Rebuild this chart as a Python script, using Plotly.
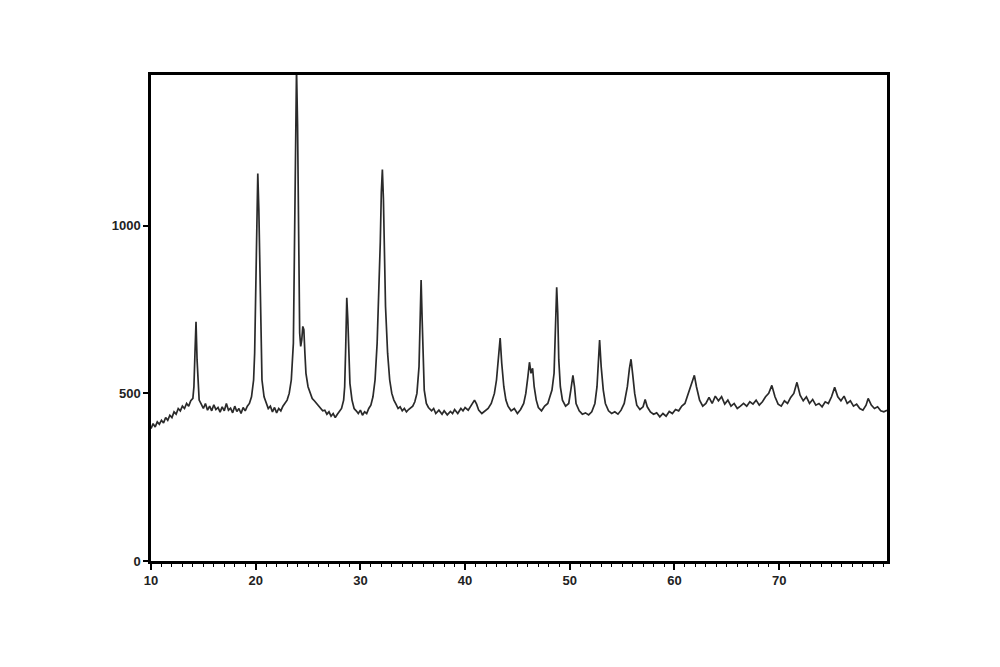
import plotly.graph_objects as go

two_theta = [
    10.0, 10.2, 10.4, 10.6, 10.8, 11.0, 11.2, 11.4, 11.6, 11.8, 12.0, 12.2, 12.4, 12.6, 12.8,
    13.0, 13.2, 13.4, 13.6, 13.8, 14.0, 14.1, 14.2, 14.3, 14.4, 14.5, 14.6, 14.8,
    15.0, 15.2, 15.4, 15.6, 15.8, 16.0, 16.2, 16.4, 16.6, 16.8, 17.0, 17.2, 17.4, 17.6, 17.8,
    18.0, 18.2, 18.4, 18.6, 18.8, 19.0, 19.2, 19.4, 19.6, 19.8, 19.9, 20.0, 20.1, 20.2, 20.3,
    20.4, 20.5, 20.6, 20.8, 21.0, 21.2, 21.4, 21.6, 21.8, 22.0, 22.2, 22.4, 22.6, 22.8,
    23.0, 23.2, 23.4, 23.6, 23.7, 23.8, 23.9, 24.0, 24.1, 24.2, 24.3, 24.4, 24.5, 24.6, 24.7, 24.8,
    25.0, 25.2, 25.4, 25.6, 25.8, 26.0, 26.2, 26.4, 26.6, 26.8, 27.0, 27.2, 27.4, 27.6, 27.8,
    28.0, 28.2, 28.4, 28.5, 28.6, 28.7, 28.8, 28.9, 29.0, 29.2, 29.4, 29.6, 29.8,
    30.0, 30.2, 30.4, 30.6, 30.8, 31.0, 31.2, 31.4, 31.6, 31.8, 31.9, 32.0, 32.1, 32.2, 32.3,
    32.4, 32.6, 32.8, 33.0, 33.2, 33.4, 33.6, 33.8, 34.0, 34.2, 34.4, 34.6, 34.8,
    35.0, 35.2, 35.4, 35.6, 35.7, 35.8, 35.9, 36.0, 36.1, 36.3, 36.5, 36.8, 37.0, 37.2, 37.5, 37.8,
    38.0, 38.3, 38.6, 38.8, 39.0, 39.3, 39.6, 39.8, 40.0, 40.3, 40.6, 40.9, 41.1, 41.3, 41.6, 41.9,
    42.2, 42.5, 42.8, 43.0, 43.2, 43.35, 43.5, 43.7, 43.9, 44.1, 44.4, 44.7, 45.0, 45.3, 45.6, 45.8,
    46.0, 46.15, 46.3, 46.45, 46.6, 46.8, 47.0, 47.3, 47.6, 47.9, 48.1, 48.3, 48.5, 48.65, 48.75,
    48.85, 48.95, 49.1, 49.3, 49.6, 49.9, 50.1, 50.3, 50.45, 50.6, 50.9, 51.2, 51.5, 51.8,
    52.1, 52.4, 52.6, 52.75, 52.85, 53.0, 53.2, 53.4, 53.7, 54.0, 54.3, 54.6, 54.9,
    55.2, 55.5, 55.7, 55.85, 56.0, 56.2, 56.4, 56.7, 57.0, 57.2, 57.4, 57.7, 58.0, 58.3, 58.6, 58.9,
    59.2, 59.5, 59.8, 60.1, 60.4, 60.7, 61.0, 61.3, 61.6, 61.9, 62.1, 62.4, 62.7, 63.0, 63.3, 63.6,
    63.9, 64.2, 64.5, 64.8, 65.1, 65.4, 65.7, 66.0, 66.3, 66.6, 66.9, 67.2, 67.5, 67.8, 68.1, 68.4,
    68.7, 69.0, 69.3, 69.6, 69.9, 70.2, 70.5, 70.8, 71.1, 71.4, 71.7, 72.0, 72.3, 72.6, 72.9,
    73.2, 73.5, 73.8, 74.1, 74.4, 74.7, 75.0, 75.3, 75.6, 75.9, 76.2, 76.5, 76.8, 77.1, 77.4, 77.7,
    78.0, 78.3, 78.5, 78.8, 79.1, 79.4, 79.7, 80.0, 80.3,
]

intensity = [
    395, 410, 400, 415, 408, 420, 412, 428, 420, 435, 428, 445, 438, 455, 448,
    462, 455, 470, 462, 478, 485, 520, 620, 714, 600, 520, 480, 468,
    455, 470, 450, 462, 448, 466, 452, 458, 444, 460, 448, 470, 450, 456, 442,
    462, 446, 455, 440, 458, 448, 462, 470, 490, 540, 620, 800, 1000, 1156, 1050,
    860, 650, 540, 490, 470, 455, 462, 445, 458, 442, 455, 448, 462, 470,
    480, 500, 540, 650, 900, 1250, 1470, 1300, 900, 680, 640, 660, 700, 690, 620, 560,
    520, 500, 485, 478, 470, 462, 455, 448, 450, 438, 445, 432, 440, 428, 438,
    445, 455, 480, 520, 640, 785, 720, 600, 530, 480, 455, 448, 440,
    450, 435, 445, 440, 455, 465, 490, 540, 650, 820, 950, 1100, 1168, 1080, 900,
    760, 620, 540, 500, 480, 468, 455, 460, 448, 455, 445, 452, 458,
    462, 475, 500, 580, 700, 838, 720, 580, 510, 470, 458, 448, 455, 440, 450, 438,
    448, 436, 446, 440, 452, 440, 455, 448, 458, 450, 465, 480, 468, 450, 440, 448,
    455, 470, 500, 540, 600, 665, 590, 520, 480, 462, 448, 455, 440, 452, 470, 500,
    550, 593, 560, 575, 520, 480, 458, 448, 462, 470, 490, 510, 560, 700, 817,
    740, 600, 520, 480, 462, 470, 510, 554, 520, 470, 448, 438, 442, 436,
    445, 470, 520, 600, 659, 580, 510, 470, 448, 440, 445, 438, 450,
    470, 520, 575, 602, 560, 500, 465, 452, 460, 482, 460, 445, 438, 442, 430, 440,
    432, 446, 440, 452, 448, 462, 470, 500, 530, 554, 520, 480, 462, 470, 488, 470,
    492, 478, 490, 468, 480, 462, 470, 455, 462, 470, 462, 475, 468, 480, 465, 475,
    490, 500, 524, 490, 468, 462, 478, 470, 488, 500, 533, 495, 478, 490, 470,
    482, 465, 470, 460, 475, 470, 490, 518, 490, 478, 492, 470, 478, 462, 468, 455,
    450, 465, 485, 465, 455, 460, 448, 445, 450,
]

x_tick_vals = [10, 20, 30, 40, 50, 60, 70]
y_tick_vals = [0, 500, 1000]

fig = go.Figure()
fig.add_trace(go.Scatter(
    x=two_theta, y=intensity, mode="lines",
    line=dict(color="#2a2a2a", width=1.7),
    showlegend=False, hoverinfo="skip",
))

axis_font = dict(family="Liberation Sans", size=13, color="#222222", weight="bold")

fig.update_layout(
    width=1000, height=667,
    paper_bgcolor="white", plot_bgcolor="white",
    margin=dict(l=143, r=121, t=67, b=114),
    xaxis=dict(
        range=[10, 80.3], tickvals=x_tick_vals, ticktext=[str(v) for v in x_tick_vals],
        ticks="outside", ticklen=6, tickwidth=1.5, tickcolor="black",
        minor=dict(dtick=1, ticks="outside", ticklen=3, tickwidth=1, tickcolor="black"),
        showgrid=False, zeroline=False,
        showline=True, linecolor="black", linewidth=2.5, mirror=True,
        tickfont=axis_font,
    ),
    yaxis=dict(
        range=[0, 1450], tickvals=y_tick_vals, ticktext=[str(v) for v in y_tick_vals],
        ticks="outside", ticklen=5, tickwidth=1.5, tickcolor="black",
        showgrid=False, zeroline=False,
        showline=True, linecolor="black", linewidth=2.5, mirror=True,
        tickfont=axis_font,
    ),
)

fig.write_html("out.html")
